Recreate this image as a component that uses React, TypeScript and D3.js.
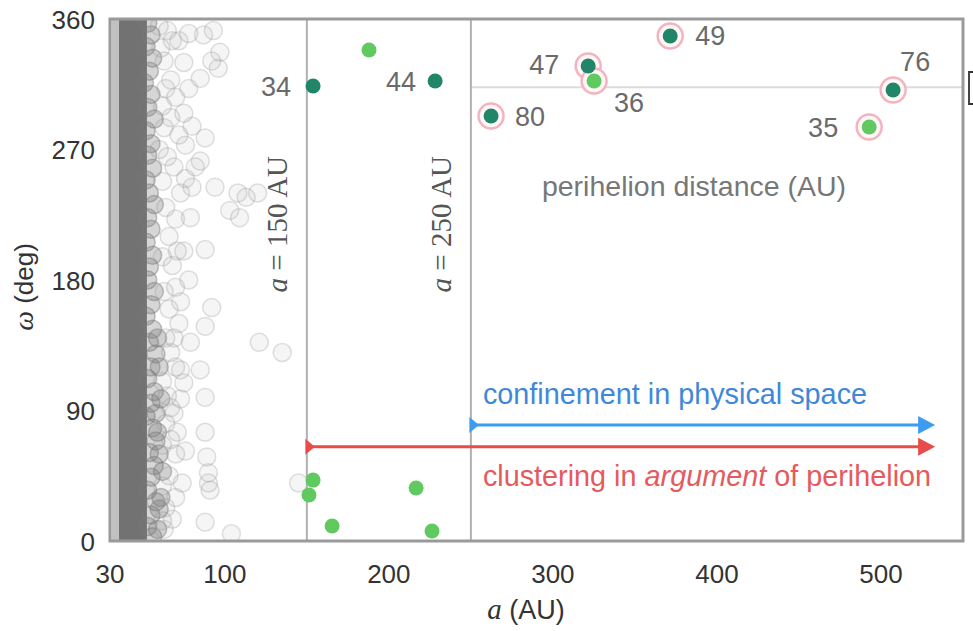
import React from 'react';
import * as d3 from 'd3';

const W = 973;
const H = 631;

// axes
const xDomain: [number, number] = [30, 550];
const yDomain: [number, number] = [0, 360];
const xTicks = [30, 100, 200, 300, 400, 500];
const yTicks = [0, 90, 180, 270, 360];

// dense classical-belt band (a range, AU)
const beltCore: [number, number] = [35.5, 52.5];
const beltFringe: [number, number] = [31, 35.5];

// fuzzy edge of the dense band [a, omega]
const beltEdge: [number, number][] = [
  [53, 357], [55, 349], [52, 341], [56, 333], [54, 324], [51, 316], [55, 308], [53, 299],
  [57, 291], [52, 283], [55, 274], [53, 266], [56, 257], [52, 249], [54, 240], [57, 232],
  [53, 223], [55, 215], [52, 206], [56, 197], [54, 189], [53, 180], [57, 172], [55, 163],
  [52, 155], [56, 146], [54, 137], [58, 129], [55, 120], [53, 112], [57, 103], [55, 95],
  [52, 86], [56, 78], [58, 69], [54, 61], [57, 52], [55, 44], [53, 35], [58, 27],
  [55, 18], [53, 10], [56, 3], [60, 120], [61, 98], [59, 75], [62, 48], [60, 22],
  [59, 140], [61, 30], [58, 88], [60, 60], [59, 8],
];

// scattered extended-disk objects [a, omega]
const scattered: [number, number][] = [
  [65, 352], [72, 345], [87, 349], [93, 352], [92, 331], [97, 337], [96, 326], [85, 319],
  [63, 331], [70, 306], [75, 295], [67, 292], [63, 285], [88, 278], [76, 273], [60, 270],
  [82, 258], [69, 258], [94, 244], [80, 244], [108, 240], [113, 237], [120, 240], [109, 223],
  [103, 228], [85, 262], [76, 250], [73, 240], [79, 223], [88, 201], [92, 161], [88, 148],
  [79, 137], [121, 137], [135, 130], [73, 118], [85, 118], [75, 109], [88, 99], [69, 88],
  [71, 75], [64, 81], [88, 75], [89, 58], [90, 47], [90, 40], [91, 35], [64, 23],
  [62, 14], [88, 13], [63, 8], [104, 5], [145, 40], [66, 210], [68, 190], [70, 175],
  [66, 160], [72, 150], [67, 130], [65, 100], [70, 60], [66, 45], [70, 30], [75, 200],
  [78, 180], [64, 230], [67, 318], [75, 330], [78, 312], [62, 300], [80, 286], [68, 345],
  [61, 340], [64, 312], [72, 280], [62, 248], [70, 222], [62, 196], [73, 165], [63, 172],
  [69, 140], [62, 110], [67, 92], [73, 98], [62, 66], [67, 70], [74, 40], [62, 38],
  [68, 15], [76, 62], [64, 140], [71, 200], [60, 355], [78, 350], [65, 265], [70, 120],
];

// dark-green objects (perihelion > 30 AU)
const darkA = [153.8, 228.2, 321.5, 262.3, 371.5, 507.4];
const darkW = [313.8, 317.2, 327.6, 293.1, 348.3, 311.0];
const darkLabels = ['34', '44', '47', '80', '49', '76'];
const darkRinged = [false, false, true, true, true, true];

// light-green objects
const lightA = [187.9, 325.1, 492.8, 153.8, 151.3, 165.4, 216.6, 226.3];
const lightW = [338.6, 317.2, 285.5, 42.0, 31.7, 10.3, 36.6, 6.9];
const lightLabels = ['', '36', '35', '', '', '', '', ''];
const lightRinged = [false, true, true, false, false, false, false, false];

// annotations
const thresholdA = [150, 250];
const thresholdText = ['150', '250'];
const periRefW = 313;
const blueArrowA: [number, number] = [250, 533];
const blueArrowW = 80;
const redArrowA: [number, number] = [150, 533];
const redArrowW = 65;

// label placement (style, not data)
const labelOffset: Record<string, [number, number, 'start' | 'end']> = {
  '34': [-22, 10, 'end'],
  '44': [-19, 10, 'end'],
  '47': [-29, 8, 'end'],
  '80': [24, 10, 'start'],
  '49': [25, 9, 'start'],
  '76': [7, -19, 'start'],
  '36': [20, 31, 'start'],
  '35': [-31, 10, 'end'],
};

const SANS = '"Liberation Sans", Arial, Helvetica, sans-serif';
const SERIF = '"Liberation Serif", "Times New Roman", serif';

export default function App() {
  const x = d3.scaleLinear().domain(xDomain).range([110, 963]);
  const y = d3.scaleLinear().domain(yDomain).range([541, 19]);
  const [x0, x1] = x.range();
  const [y0, y1] = y.range();

  const dark = darkA.map((a, i) => ({ a, w: darkW[i], label: darkLabels[i], ring: darkRinged[i] }));
  const light = lightA.map((a, i) => ({ a, w: lightW[i], label: lightLabels[i], ring: lightRinged[i] }));

  const arrow = (aRange: [number, number], w: number, color: string) => {
    const xs = x(aRange[0]);
    const xe = x(aRange[1]);
    const yy = y(w);
    return (
      <g>
        <line x1={xs} x2={xe - 12} y1={yy} y2={yy} stroke={color} strokeWidth={3} />
        <path d={`M${xs - 1.5},${yy - 8} L${xs + 8},${yy} L${xs - 1.5},${yy + 8} Z`} fill={color} />
        <path d={`M${xe - 17},${yy - 9} L${xe},${yy} L${xe - 17},${yy + 9} Z`} fill={color} />
      </g>
    );
  };

  const renderLabel = (p: { a: number; w: number; label: string }) => {
    if (!p.label) return null;
    const [dx, dy, anchor] = labelOffset[p.label];
    return (
      <text
        key={'l' + p.label}
        x={x(p.a) + dx}
        y={y(p.w) + dy}
        textAnchor={anchor}
        fontFamily={SANS}
        fontSize={27}
        fill="#6a6a6a"
      >
        {p.label}
      </text>
    );
  };

  return (
    <svg width={W} height={H} style={{ position: 'absolute', left: 0, top: 0, background: '#fff' }}>
      <rect x={0} y={0} width={W} height={H} fill="#fff" />
      <defs>
        <clipPath id="plot">
          <rect x={x0} y={y1} width={x1 - x0} height={y0 - y1} />
        </clipPath>
      </defs>

      <g clipPath="url(#plot)">
        {/* belt fringe and core */}
        <rect x={x(beltFringe[0])} width={x(beltFringe[1]) - x(beltFringe[0])} y={y1} height={y0 - y1} fill="#c2c2c2" />
        <rect x={x(beltCore[0])} width={x(beltCore[1]) - x(beltCore[0])} y={y1} height={y0 - y1} fill="#727272" />
        {beltEdge.map(([a, w], i) => (
          <circle key={'e' + i} cx={x(a)} cy={y(w)} r={9} fill="#777" fillOpacity={0.3} stroke="#777" strokeOpacity={0.45} strokeWidth={1.5} />
        ))}
        {scattered.map(([a, w], i) => (
          <circle key={'s' + i} cx={x(a)} cy={y(w)} r={9} fill="#999" fillOpacity={0.1} stroke="#999" strokeOpacity={0.3} strokeWidth={1.5} />
        ))}

        {/* reference lines */}
        <line x1={x(thresholdA[1])} x2={x1} y1={y(periRefW)} y2={y(periRefW)} stroke="#dcdcdc" strokeWidth={2} />
        {thresholdA.map((a) => (
          <line key={'t' + a} x1={x(a)} x2={x(a)} y1={y1} y2={y0} stroke="#b0b0b0" strokeWidth={2} />
        ))}

        {/* arrows */}
        {arrow(blueArrowA, blueArrowW, '#3d9cf0')}
        {arrow(redArrowA, redArrowW, '#e94b4b')}

        {/* objects */}
        {[...dark, ...light].filter((p) => p.ring).map((p, i) => (
          <circle key={'r' + i} cx={x(p.a)} cy={y(p.w)} r={12.5} fill="#fff6f7" stroke="#f2b5bf" strokeWidth={2.5} />
        ))}
        {light.map((p, i) => (
          <circle key={'g' + i} cx={x(p.a)} cy={y(p.w)} r={7.5} fill="#60c95f" />
        ))}
        {dark.map((p, i) => (
          <circle key={'d' + i} cx={x(p.a)} cy={y(p.w)} r={7.5} fill="#218668" />
        ))}
      </g>

      {/* frame */}
      <rect x={x0} y={y1} width={x1 - x0} height={y0 - y1} fill="none" stroke="#9a9a9a" strokeWidth={3} />

      {/* object labels */}
      {dark.map(renderLabel)}
      {light.map(renderLabel)}

      {/* threshold labels */}
      {thresholdA.map((a, i) => (
        <text
          key={'tl' + a}
          transform={`translate(${x(a) - 20},${y(218.5)}) rotate(-90)`}
          textAnchor="middle"
          fontFamily={SERIF}
          fontSize={29}
          fill="#555"
        >
          <tspan fontStyle="italic">a</tspan> = {thresholdText[i]} AU
        </text>
      ))}

      <text x={694} y={196} textAnchor="middle" fontFamily={SANS} fontSize={28.5} fill="#777">
        perihelion distance (AU)
      </text>

      <text x={x(250) + 12} y={y(101) + 9} fontFamily={SANS} fontSize={28.8} fill="#3f88d9">
        confinement in physical space
      </text>
      <text x={x(250) + 12} y={y(44) + 9} fontFamily={SANS} fontSize={28.8} fill="#e55a5c">
        clustering in <tspan fontStyle="italic">argument</tspan> of perihelion
      </text>

      {/* axes tick labels */}
      {xTicks.map((t) => (
        <text key={'xt' + t} x={x(t)} y={583} textAnchor="middle" fontFamily={SANS} fontSize={26} fill="#333">
          {t}
        </text>
      ))}
      {yTicks.map((t) => (
        <text key={'yt' + t} x={95} y={y(t) + 9.5} textAnchor="end" fontFamily={SANS} fontSize={26} fill="#333">
          {t}
        </text>
      ))}

      {/* axis titles */}
      <text x={526} y={619} textAnchor="middle" fontFamily={SANS} fontSize={27} fill="#333">
        <tspan fontFamily={SERIF} fontStyle="italic" fontSize={29}>a</tspan> (AU)
      </text>
      <text transform={`translate(33,${287}) rotate(-90)`} textAnchor="middle" fontFamily={SANS} fontSize={26} fill="#333">
        <tspan fontFamily={SERIF} fontStyle="italic" fontSize={28}>ω</tspan> (deg)
      </text>

      {/* clipped glyph fragment from neighbouring figure */}
      <path d="M974,72 L969,72 L969,104 L974,104" fill="none" stroke="#333" strokeWidth={1.8} />
    </svg>
  );
}
